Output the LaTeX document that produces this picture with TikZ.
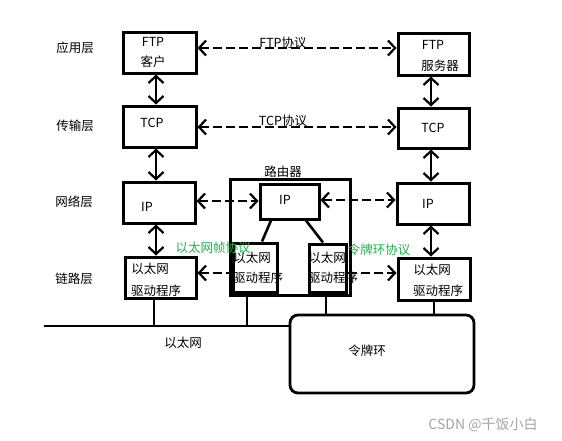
\documentclass[tikz,border=0pt]{standalone}
\usepackage{fontspec}
\setmainfont{Noto Sans CJK SC}
\usetikzlibrary{arrows.meta}
\definecolor{proto}{RGB}{34,177,76}
\definecolor{mark}{RGB}{165,165,165}
\tikzset{
  box/.style={draw, line width=3pt, inner sep=0pt},
  vline/.style={line width=2.6pt},
  tip/.tip={Straight Barb[length=7pt,width=15pt,line width=2.2pt]},
  dar/.style={line width=2.6pt, tip-tip},
  dda/.style={line width=2.6pt, dash pattern=on 9pt off 4pt, tip-tip},
  ddl/.style={line width=2.6pt, dash pattern=on 9pt off 4pt, tip-},
  ddr/.style={line width=2.6pt, dash pattern=on 9pt off 4pt, -tip},
  txt/.style={inner sep=0pt},
  green/.style={inner sep=0pt, text=proto},
}
\begin{document}
\begin{tikzpicture}[x=1pt,y=-1pt,font=\fontsize{12.5}{14}\selectfont]
\useasboundingbox (0,0) rectangle (562,440);
\fill[white] (0,0) rectangle (562,440);
% helper coordinates
\coordinate (lx) at (156,0);
\coordinate (rx) at (431,0);
\coordinate (y1) at (0,48);
\coordinate (y2) at (0,127);
\coordinate (y3) at (0,201);
\coordinate (y3b) at (0,200);
\coordinate (y4) at (0,273);
\coordinate (bus) at (0,326);
\coordinate (busstart) at (44,326);
% layer labels
\node[txt] (l1) at (75,48) {应用层};
\node[txt] (l2) at (75,126) {传输层};
\node[txt] (l3) at (74,202) {网络层};
\node[txt] (l4) at (74,279) {链路层};
% boxes
\node[box, minimum width=73pt, minimum height=41pt] (ftpc) at (159.5,52.5) {};
\node[box, minimum width=71pt, minimum height=42pt] (ftps) at (433.5,54) {};
\node[box, minimum width=73pt, minimum height=41pt] (tcpl) at (159.5,126.5) {};
\node[box, minimum width=71pt, minimum height=40pt] (tcpr) at (433.5,128) {};
\node[box, minimum width=72pt, minimum height=41pt] (ipl) at (159,202.5) {};
\node[box, minimum width=72pt, minimum height=41pt] (ipr) at (433,203.5) {};
\node[box, minimum width=71pt, minimum height=41pt] (ethl) at (160.5,277.5) {};
\node[box, minimum width=72pt, minimum height=42pt] (ethr) at (434,279) {};
\node[box, minimum width=120pt, minimum height=116pt] (router) at (290,237) {};
\node[box, minimum width=59pt, minimum height=35pt] (rip) at (289.5,201.5) {};
\node[box, minimum width=44pt, minimum height=49pt] (reth1) at (255,267.5) {};
\node[box, minimum width=37pt, minimum height=48pt] (reth2) at (327.5,268) {};
\node[box, line width=2.8pt, rounded corners=8pt, minimum width=184pt, minimum height=78pt] (ring) at (382,354) {};
% box texts
\node[txt] (t1) at (153,42) {FTP};
\node[txt] (t2) at (153,62) {客户};
\node[txt] (t3) at (433,45) {FTP};
\node[txt] (t4) at (440,66) {服务器};
\node[txt] (t5) at (152,123) {TCP};
\node[txt] (t6) at (433,128) {TCP};
\node[txt] (t7) at (147,207) {IP};
\node[txt] (t8) at (285,200) {IP};
\node[txt] (t9) at (428,204) {IP};
\node[txt] (t10) at (150,269) {以太网};
\node[txt] (t11) at (156,291) {驱动程序};
\node[txt] (t12) at (252,258) {以太网};
\node[txt] (t13) at (258,278) {驱动程序};
\node[txt] (t14) at (327,258) {以太网};
\node[txt] (t15) at (333,278) {驱动程序};
\node[txt] (t16) at (432,270) {以太网};
\node[txt] (t17) at (438,291) {驱动程序};
\node[txt] (t18) at (283,172) {路由器};
\node[txt] (t19) at (183,343) {以太网};
\node[txt] (t20) at (367,351) {令牌环};
% protocol labels
\node[txt] (p1) at (283,43) {FTP协议};
\node[txt] (p2) at (283,121) {TCP协议};
\node[green] (p3) at (213,248) {以太网帧协议};
\node[green] (p4) at (379,250) {令牌环协议};
% vertical double arrows
\draw[dar] (ftpc.south -| lx) -- (tcpl.north -| lx);
\draw[dar] (tcpl.south -| lx) -- (ipl.north -| lx);
\draw[dar] (ipl.south -| lx) -- (ethl.north -| lx);
\draw[dar] (ftps.south -| rx) -- (tcpr.north -| rx);
\draw[dar] (tcpr.south -| rx) -- (ipr.north -| rx);
\draw[dar] (ipr.south -| rx) -- (ethr.north -| rx);
% horizontal dashed arrows
\draw[dda] (ftpc.east |- y1) -- (ftps.west |- y1);
\draw[dda] (tcpl.east |- y2) -- (tcpr.west |- y2);
\draw[dda] (ipl.east |- y3) -- (rip.west |- y3);
\draw[dda] (rip.east |- y3b) -- (ipr.west |- y3b);
\draw[ddl] (ethl.east |- y4) -- (reth1.west |- y4);
\draw[ddr] (reth2.east |- y4) -- (ethr.west |- y4);
% router internal links
\coordinate (a1) at (271,0); \coordinate (a2) at (262,0);
\coordinate (b1) at (306,0); \coordinate (b2) at (323,0);
\draw[vline] (rip.south -| a1) -- (reth1.north -| a2);
\draw[vline] (rip.south -| b1) -- (reth2.north -| b2);
% buses
\coordinate (c1) at (154,0); \coordinate (c2) at (247,0);
\coordinate (c3) at (326,0); \coordinate (c4) at (434,0);
\draw[vline] (busstart) -- (ring.west |- bus);
\draw[vline] (ethl.south -| c1) -- (bus -| c1);
\draw[vline] (router.south -| c2) -- (bus -| c2);
\draw[vline] (reth2.south -| c3) -- (ring.north -| c3);
\draw[vline] (ethr.south -| c4) -- (ring.north -| c4);
% watermark
\node[txt, text=mark, font=\fontsize{14}{16}\selectfont] (wm) at (483,425) {CSDN @千饭小白};
\end{tikzpicture}
\end{document}
